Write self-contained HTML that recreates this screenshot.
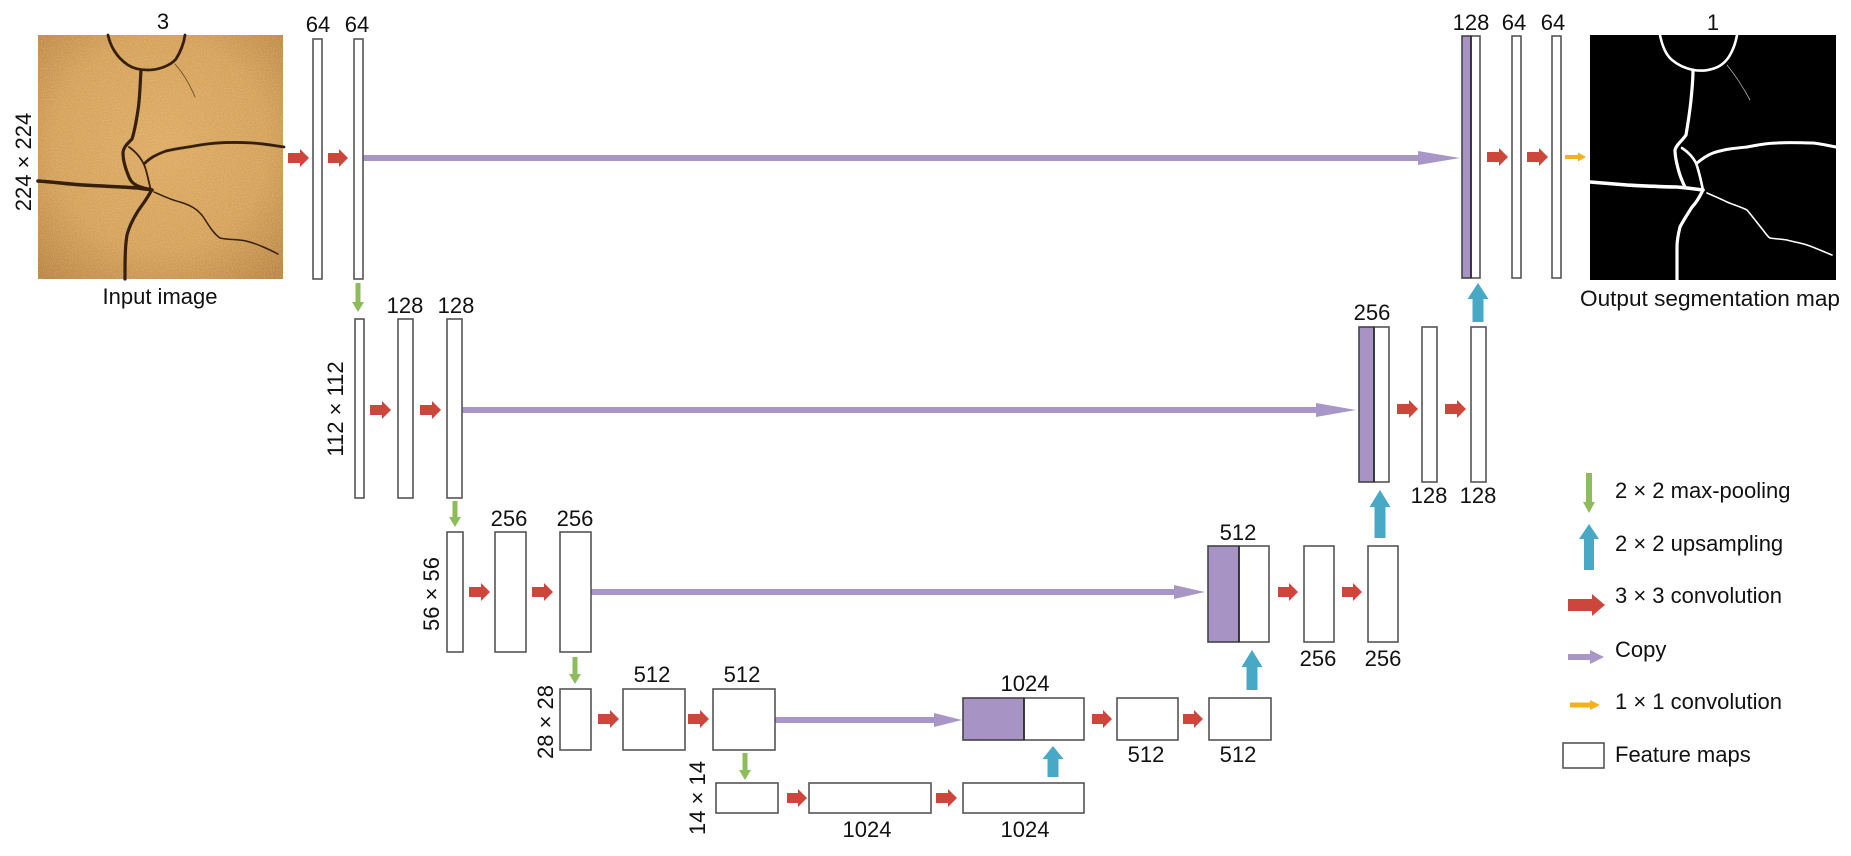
<!DOCTYPE html>
<html>
<head>
<meta charset="utf-8">
<style>
html,body{margin:0;padding:0;background:#fff;}
body{width:1851px;height:856px;overflow:hidden;}
svg{display:block;}
text{font-family:"Liberation Sans",Arial,sans-serif;font-size:22px;fill:#111;}
.fm{fill:#fff;stroke:#555;stroke-width:1.6;}
.cc{fill:#a794c4;stroke:#444;stroke-width:1.6;}
.red{fill:#cc463b;}
.pur{fill:#a896c6;}
.cy{fill:#47a9c6;}
.gr{fill:#8dbd5b;}
.ye{fill:#f4b11c;}
</style>
</head>
<body>
<svg width="1851" height="856" viewBox="0 0 1851 856" xmlns="http://www.w3.org/2000/svg">
<defs>
  <radialGradient id="tan" cx="50%" cy="45%" r="72%">
    <stop offset="0" stop-color="#ddab63"/>
    <stop offset="0.6" stop-color="#d5a25a"/>
    <stop offset="1" stop-color="#bb8644"/>
  </radialGradient>
  <filter id="spk" x="0" y="0" width="100%" height="100%">
    <feTurbulence type="fractalNoise" baseFrequency="0.9" numOctaves="1" seed="3" result="n"/>
    <feColorMatrix type="matrix" values="0 0 0 0 1  0 0 0 0 0.95  0 0 0 0 0.85  0 0 0 -2.2 1.25" in="n" result="m"/>
    <feComposite in="m" in2="SourceGraphic" operator="in"/>
  </filter>
</defs>

<!-- ============ INPUT IMAGE ============ -->
<g transform="translate(38,35)">
  <rect x="0" y="0" width="245" height="244" fill="url(#tan)"/>
  <rect x="0" y="0" width="245" height="244" fill="#fff" filter="url(#spk)" opacity="0.3"/>
  <g fill="none" stroke="#36200b" stroke-linecap="round" stroke-linejoin="round">
    <path d="M70,0 C72,10 78,22 90,30 C96,34 103,35 110,35 C120,35 132,31 138,24 C143,16 146,7 147,0" stroke-width="2.8"/>
    <path d="M137,29 C145,38 152,50 157,62" stroke-width="0.9" stroke="#6a4a28"/>
    <path d="M103,35 C102,50 102,62 100,75 C98,88 96,98 94,104 C89,109 85,113 85,118 C85,126 88,135 91,142 C93,147 96,151 110,154" stroke-width="3.2"/>
    <path d="M91,112 C98,117 104,124 107,132 C110,141 111,149 113,155" stroke-width="1.8"/>
    <path d="M0,146 C15,147 30,149 45,150 C65,151 85,152 100,153 C106,154 110,154 114,155" stroke-width="3.6"/>
    <path d="M107,128 C113,122 120,119 128,116 C140,113 152,112 162,110 C180,107 198,107 215,108 C228,109 238,111 246,112" stroke-width="2.8"/>
    <path d="M113,156 C109,164 104,170 100,176 C95,184 91,192 89,200 C87,212 87,225 87,244" stroke-width="3.2"/>
    <path d="M116,157 C125,161 133,165 142,167 C152,170 160,174 166,183 C171,191 176,199 182,203 C190,205 199,204 208,206 C220,209 230,214 240,219" stroke-width="1.5"/>
  </g>
</g>
<text x="163" y="29" text-anchor="middle">3</text>
<text x="160" y="304" text-anchor="middle">Input image</text>
<text transform="translate(23,162) rotate(-90)" x="0" y="8" text-anchor="middle">224 × 224</text>

<!-- ============ OUTPUT IMAGE ============ -->
<g transform="translate(1590,35)">
  <rect x="0" y="0" width="246" height="245" fill="#000"/>
  <g fill="none" stroke="#fff" stroke-linecap="round" stroke-linejoin="round">
    <path d="M70,0 C72,10 76,20 82,25 C88,30 94,33 103,35 C110,36 116,36 122,34 C130,32 136,27 140,20 C144,13 146,6 147,0" stroke-width="2.6"/>
    <path d="M137,30 C145,40 153,52 160,65" stroke-width="0.8" stroke="#aaa"/>
    <path d="M103,35 C103,45 102,55 101,65 C100,75 98,88 96,100 C92,106 86,110 85,115 C85,122 87,130 89,137 C91,144 93,148 95,152" stroke-width="3.2"/>
    <path d="M92,113 C98,117 103,122 106,128 C109,136 111,146 113,155" stroke-width="2.6"/>
    <path d="M0,147 C12,148 25,149 37,150 C55,151 72,152 87,152 C98,153 106,154 113,155" stroke-width="3.6"/>
    <path d="M107,128 C113,123 118,120 123,118 C135,114 147,113 157,112 C168,110 177,108 187,108 C200,107 212,108 223,108 C232,109 240,111 246,112" stroke-width="3"/>
    <path d="M112,157 C109,163 106,168 102,172 C97,180 93,186 90,192 C88,200 87,206 87,212 C87,225 87,235 87,245" stroke-width="3.2"/>
    <path d="M117,158 C124,161 131,164 137,167 C144,170 151,172 157,175 C163,182 168,189 173,195 C176,199 178,202 180,203 C186,204 191,204 197,205 C204,207 211,208 217,210 C226,213 234,217 242,220" stroke-width="1.6"/>
  </g>
</g>
<text x="1713" y="30" text-anchor="middle">1</text>
<text x="1710" y="306" text-anchor="middle" style="font-size:22.6px">Output segmentation map</text>

<!-- ============ COPY (purple) ARROWS ============ -->
<rect class="pur" x="363" y="155" width="1060" height="6"/>
<polygon class="pur" points="1418,151 1460,158 1418,165"/>
<rect class="pur" x="462" y="407" width="858" height="6"/>
<polygon class="pur" points="1316,403 1356,410 1316,417"/>
<rect class="pur" x="591" y="589" width="587" height="6"/>
<polygon class="pur" points="1174,585 1205,592 1174,599"/>
<rect class="pur" x="775" y="717" width="163" height="6"/>
<polygon class="pur" points="934,713 962,720 934,727"/>

<!-- ============ FEATURE MAPS ============ -->
<rect class="fm" x="313" y="39" width="9" height="240"/>
<rect class="fm" x="354" y="39" width="9" height="240"/>
<text x="318" y="32" text-anchor="middle">64</text>
<text x="357" y="32" text-anchor="middle">64</text>

<rect class="fm" x="355" y="319" width="9" height="179"/>
<rect class="fm" x="398" y="319" width="15" height="179"/>
<rect class="fm" x="447" y="319" width="15" height="179"/>
<text x="405" y="313" text-anchor="middle">128</text>
<text x="456" y="313" text-anchor="middle">128</text>
<text transform="translate(335,409) rotate(-90)" x="0" y="8" text-anchor="middle">112 × 112</text>

<rect class="fm" x="447" y="532" width="16" height="120"/>
<rect class="fm" x="495" y="532" width="31" height="120"/>
<rect class="fm" x="560" y="532" width="31" height="120"/>
<text x="509" y="526" text-anchor="middle">256</text>
<text x="575" y="526" text-anchor="middle">256</text>
<text transform="translate(431,594) rotate(-90)" x="0" y="8" text-anchor="middle">56 × 56</text>

<rect class="fm" x="560" y="689" width="31" height="61"/>
<rect class="fm" x="623" y="689" width="62" height="61"/>
<rect class="fm" x="713" y="689" width="62" height="61"/>
<text x="652" y="682" text-anchor="middle">512</text>
<text x="742" y="682" text-anchor="middle">512</text>
<text transform="translate(545,722) rotate(-90)" x="0" y="8" text-anchor="middle">28 × 28</text>

<rect class="fm" x="716" y="783" width="62" height="30"/>
<rect class="fm" x="809" y="783" width="122" height="30"/>
<rect class="fm" x="963" y="783" width="121" height="30"/>
<text x="867" y="837" text-anchor="middle">1024</text>
<text x="1025" y="837" text-anchor="middle">1024</text>
<text transform="translate(697,798) rotate(-90)" x="0" y="8" text-anchor="middle">14 × 14</text>

<rect class="cc" x="963" y="698" width="61" height="42"/>
<rect class="fm" x="1024" y="698" width="60" height="42"/>
<line x1="1024" y1="698" x2="1024" y2="740" stroke="#333" stroke-width="1.8"/>
<rect class="fm" x="1117" y="698" width="61" height="42"/>
<rect class="fm" x="1209" y="698" width="62" height="42"/>
<text x="1025" y="691" text-anchor="middle">1024</text>
<text x="1146" y="762" text-anchor="middle">512</text>
<text x="1238" y="762" text-anchor="middle">512</text>

<rect class="cc" x="1208" y="546" width="31" height="96"/>
<rect class="fm" x="1239" y="546" width="30" height="96"/>
<line x1="1239" y1="546" x2="1239" y2="642" stroke="#333" stroke-width="1.8"/>
<rect class="fm" x="1304" y="546" width="30" height="96"/>
<rect class="fm" x="1368" y="546" width="30" height="96"/>
<text x="1238" y="540" text-anchor="middle">512</text>
<text x="1318" y="666" text-anchor="middle">256</text>
<text x="1383" y="666" text-anchor="middle">256</text>

<rect class="cc" x="1359" y="327" width="15" height="155"/>
<rect class="fm" x="1374" y="327" width="15" height="155"/>
<line x1="1374" y1="327" x2="1374" y2="482" stroke="#333" stroke-width="1.8"/>
<rect class="fm" x="1422" y="327" width="15" height="155"/>
<rect class="fm" x="1471" y="327" width="15" height="155"/>
<text x="1372" y="320" text-anchor="middle">256</text>
<text x="1429" y="503" text-anchor="middle">128</text>
<text x="1478" y="503" text-anchor="middle">128</text>

<rect class="cc" x="1462" y="36" width="9" height="242"/>
<rect class="fm" x="1471" y="36" width="9" height="242"/>
<line x1="1471" y1="36" x2="1471" y2="278" stroke="#333" stroke-width="1.8"/>
<rect class="fm" x="1512" y="36" width="9" height="242"/>
<rect class="fm" x="1552" y="36" width="9" height="242"/>
<text x="1471" y="30" text-anchor="middle">128</text>
<text x="1514" y="30" text-anchor="middle">64</text>
<text x="1553" y="30" text-anchor="middle">64</text>

<!-- ============ RED CONV ARROWS ============ -->
<polygon class="red" points="288,153 300,153 300,149 309,158 300,167 300,163 288,163"/>
<polygon class="red" points="328,153 339,153 339,149 348,158 339,167 339,163 328,163"/>
<polygon class="red" points="370,405 382,405 382,401 391,410 382,419 382,415 370,415"/>
<polygon class="red" points="420,405 432,405 432,401 441,410 432,419 432,415 420,415"/>
<polygon class="red" points="469,587 481,587 481,583 490,592 481,601 481,597 469,597"/>
<polygon class="red" points="532,587 544,587 544,583 553,592 544,601 544,597 532,597"/>
<polygon class="red" points="598,714 610,714 610,710 619,719 610,728 610,724 598,724"/>
<polygon class="red" points="688,714 700,714 700,710 709,719 700,728 700,724 688,724"/>
<polygon class="red" points="787,793 798,793 798,789 807,798 798,807 798,803 787,803"/>
<polygon class="red" points="936,793 948,793 948,789 957,798 948,807 948,803 936,803"/>
<polygon class="red" points="1092,714 1103,714 1103,710 1112,719 1103,728 1103,724 1092,724"/>
<polygon class="red" points="1183,714 1194,714 1194,710 1203,719 1194,728 1194,724 1183,724"/>
<polygon class="red" points="1278,587 1289,587 1289,583 1298,592 1289,601 1289,597 1278,597"/>
<polygon class="red" points="1342,587 1353,587 1353,583 1362,592 1353,601 1353,597 1342,597"/>
<polygon class="red" points="1397,404 1409,404 1409,400 1418,409 1409,418 1409,414 1397,414"/>
<polygon class="red" points="1445,404 1457,404 1457,400 1466,409 1457,418 1457,414 1445,414"/>
<polygon class="red" points="1487,152 1499,152 1499,148 1508,157 1499,166 1499,162 1487,162"/>
<polygon class="red" points="1527,152 1539,152 1539,148 1548,157 1539,166 1539,162 1527,162"/>

<polygon class="ye" points="1565,155 1578,155 1578,152.5 1586,157 1578,161.5 1578,159 1565,159"/>

<!-- ============ GREEN POOL ARROWS ============ -->
<polygon class="gr" points="355.5,283 360.5,283 360.5,302 364,302 358,312 352,302 355.5,302"/>
<polygon class="gr" points="452.5,501 457.5,501 457.5,517 461,517 455,527 449,517 452.5,517"/>
<polygon class="gr" points="572.5,657 577.5,657 577.5,674 581,674 575,684 569,674 572.5,674"/>
<polygon class="gr" points="742.5,753 747.5,753 747.5,770 751,770 745,780 739,770 742.5,770"/>

<!-- ============ CYAN UPSAMPLE ARROWS ============ -->
<polygon class="cy" points="1047.5,777 1047.5,759 1042.5,759 1053,746 1063.5,759 1058.5,759 1058.5,777"/>
<polygon class="cy" points="1246.5,690 1246.5,667 1241.5,667 1252,650 1262.5,667 1257.5,667 1257.5,690"/>
<polygon class="cy" points="1374.5,538 1374.5,507 1369.5,507 1380,490 1390.5,507 1385.5,507 1385.5,538"/>
<polygon class="cy" points="1472.5,322 1472.5,299 1467.5,299 1478,283 1488.5,299 1483.5,299 1483.5,322"/>

<!-- ============ LEGEND ============ -->
<polygon class="gr" points="1586,473 1592,473 1592,502 1595,502 1589,513 1583,502 1586,502"/>
<text x="1615" y="498">2 × 2 max-pooling</text>

<polygon class="cy" points="1584,570 1584,539 1579,539 1589,524 1599,539 1594,539 1594,570"/>
<text x="1615" y="551">2 × 2 upsampling</text>

<polygon class="red" points="1568,599 1592,599 1592,594 1605,605 1592,616 1592,611 1568,611"/>
<text x="1615" y="603">3 × 3 convolution</text>

<rect class="pur" x="1568" y="654" width="24" height="6"/>
<polygon class="pur" points="1590,650 1604,657 1590,664"/>
<text x="1615" y="657">Copy</text>

<polygon class="ye" points="1570,702.5 1590,702.5 1590,700 1600,705 1590,710 1590,707.5 1570,707.5"/>
<text x="1615" y="709">1 × 1 convolution</text>

<rect class="fm" x="1563" y="743" width="41" height="25"/>
<text x="1615" y="762">Feature maps</text>
</svg>
</body>
</html>
